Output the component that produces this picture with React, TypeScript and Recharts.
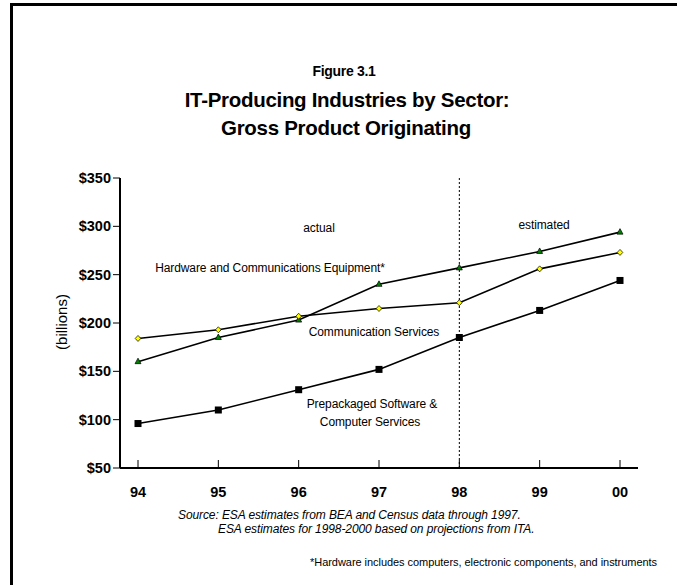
import React from "react";
import {
  LineChart,
  Line,
  XAxis,
  YAxis,
  ReferenceLine,
} from "recharts";

// values in $ billions
const years = ["94", "95", "96", "97", "98", "99", "00"];
const hardware = [160, 185, 203, 240, 257, 274, 294];
const commServices = [184, 193, 207, 215, 221, 256, 273];
const software = [96, 110, 131, 152, 185, 213, 244];
const yTicks = [50, 100, 150, 200, 250, 300, 350];

const data = years.map((year, i) => ({
  year,
  hardware: hardware[i],
  comm: commServices[i],
  software: software[i],
}));

const FONT = "'Liberation Sans', Arial, sans-serif";

const XTick = (props: any) => {
  const { x, y, payload } = props;
  return (
    <g>
      <line x1={x} x2={x} y1={y - 8} y2={y} stroke="#000" strokeWidth={1} />
      <text
        x={x}
        y={y + 29}
        textAnchor="middle"
        fontFamily={FONT}
        fontWeight="bold"
        fontSize={14.5}
        fill="#000"
      >
        {payload.value}
      </text>
    </g>
  );
};

const SquareDot = (props: any) => {
  const { cx, cy, index } = props;
  return <rect key={"s" + index} x={cx - 3.5} y={cy - 3.5} width={7} height={7} fill="#000" />;
};

const TriangleDot = (props: any) => {
  const { cx, cy, index } = props;
  return (
    <path
      key={"t" + index}
      d={`M${cx},${cy - 3.5} L${cx + 3},${cy + 2} L${cx - 3},${cy + 2} Z`}
      fill="#008000"
      stroke="#000"
      strokeWidth={0.7}
    />
  );
};

const DiamondDot = (props: any) => {
  const { cx, cy, index } = props;
  return (
    <path
      key={"d" + index}
      d={`M${cx},${cy - 3} L${cx + 2.8},${cy} L${cx},${cy + 3} L${cx - 2.8},${cy} Z`}
      fill="#ffff00"
      stroke="#000"
      strokeWidth={0.7}
    />
  );
};

const note = {
  fontFamily: FONT,
  fontSize: 12,
  letterSpacing: -0.1,
  fill: "#000",
};

export default function App() {
  return (
    <div style={{ position: "absolute", left: 0, top: 0, width: 677, height: 585, background: "#fff" }}>
      <LineChart
        width={677}
        height={585}
        data={data}
        margin={{ top: 178, right: 39, bottom: 87, left: 57 }}
      >
        <XAxis
          dataKey="year"
          padding={{ left: 18, right: 18 }}
          axisLine={{ stroke: "#000", strokeWidth: 2 }}
          tickLine={false}
          tickSize={0}
          tickMargin={0}
          tick={<XTick />}
          height={30}
          interval={0}
        />
        <XAxis
          xAxisId="top"
          dataKey="year"
          orientation="top"
          height={0}
          tick={false}
          tickLine={false}
          axisLine={{ stroke: "#808080", strokeWidth: 1 }}
        />
        <YAxis
          domain={[50, 350]}
          ticks={yTicks}
          width={63}
          allowDataOverflow
          tickFormatter={(v: number) => `$${v}`}
          tickSize={7}
          tickMargin={2}
          tickLine={{ stroke: "#000" }}
          axisLine={{ stroke: "#000", strokeWidth: 2 }}
          tick={{ fontFamily: FONT, fontWeight: "bold", fontSize: 14.5, fill: "#000" }}
        />
        <YAxis
          yAxisId="right"
          orientation="right"
          domain={[50, 350]}
          width={0}
          tick={false}
          tickLine={false}
          axisLine={{ stroke: "#808080", strokeWidth: 1 }}
        />
        <ReferenceLine x="98" stroke="#000" strokeDasharray="2 2" strokeWidth={1} />
        <Line
          dataKey="hardware"
          stroke="#000"
          strokeWidth={1.6}
          dot={TriangleDot}
          isAnimationActive={false}
        />
        <Line
          dataKey="comm"
          stroke="#000"
          strokeWidth={1.6}
          dot={DiamondDot}
          isAnimationActive={false}
        />
        <Line
          dataKey="software"
          stroke="#000"
          strokeWidth={1.6}
          dot={SquareDot}
          isAnimationActive={false}
        />
      </LineChart>

      <svg
        width={677}
        height={585}
        style={{ position: "absolute", left: 0, top: 0, pointerEvents: "none" }}
      >
        {/* frame */}
        <line x1={11.5} x2={11.5} y1={3} y2={585} stroke="#000" strokeWidth={3} />
        <line x1={10} x2={677} y1={4.5} y2={4.5} stroke="#000" strokeWidth={3} />

        {/* titles */}
        <text x={344} y={76} textAnchor="middle" fontFamily={FONT} fontWeight="bold" fontSize={14} letterSpacing={-0.3}>
          Figure 3.1
        </text>
        <text x={347} y={107} textAnchor="middle" fontFamily={FONT} fontWeight="bold" fontSize={20.5} letterSpacing={-0.3}>
          IT-Producing Industries by Sector:
        </text>
        <text x={346} y={135} textAnchor="middle" fontFamily={FONT} fontWeight="bold" fontSize={20.5} letterSpacing={-0.3}>
          Gross Product Originating
        </text>

        {/* axis label */}
        <text
          x={0}
          y={0}
          transform="translate(67,322) rotate(-90)"
          textAnchor="middle"
          fontFamily={FONT}
          fontSize={15}
        >
          (billions)
        </text>

        {/* annotations */}
        <text x={319} y={232} textAnchor="middle" {...note}>actual</text>
        <text x={544} y={229} textAnchor="middle" {...note}>estimated</text>
        <text x={270} y={272} textAnchor="middle" {...note}>Hardware and Communications Equipment*</text>
        <text x={374} y={336} textAnchor="middle" {...note}>Communication Services</text>
        <text x={372} y={408} textAnchor="middle" {...note}>Prepackaged Software &amp;</text>
        <text x={370} y={426} textAnchor="middle" {...note}>Computer Services</text>

        {/* source */}
        <text x={178} y={519} fontFamily={FONT} fontStyle="italic" fontSize={12} letterSpacing={-0.1}>
          Source: ESA estimates from BEA and Census data through 1997.
        </text>
        <text x={218} y={533} fontFamily={FONT} fontStyle="italic" fontSize={12} letterSpacing={-0.1}>
          ESA estimates for 1998-2000 based on projections from ITA.
        </text>
        <text x={657} y={566} textAnchor="end" fontFamily={FONT} fontSize={11} letterSpacing={-0.05}>
          *Hardware includes computers, electronic components, and instruments
        </text>
      </svg>
    </div>
  );
}
